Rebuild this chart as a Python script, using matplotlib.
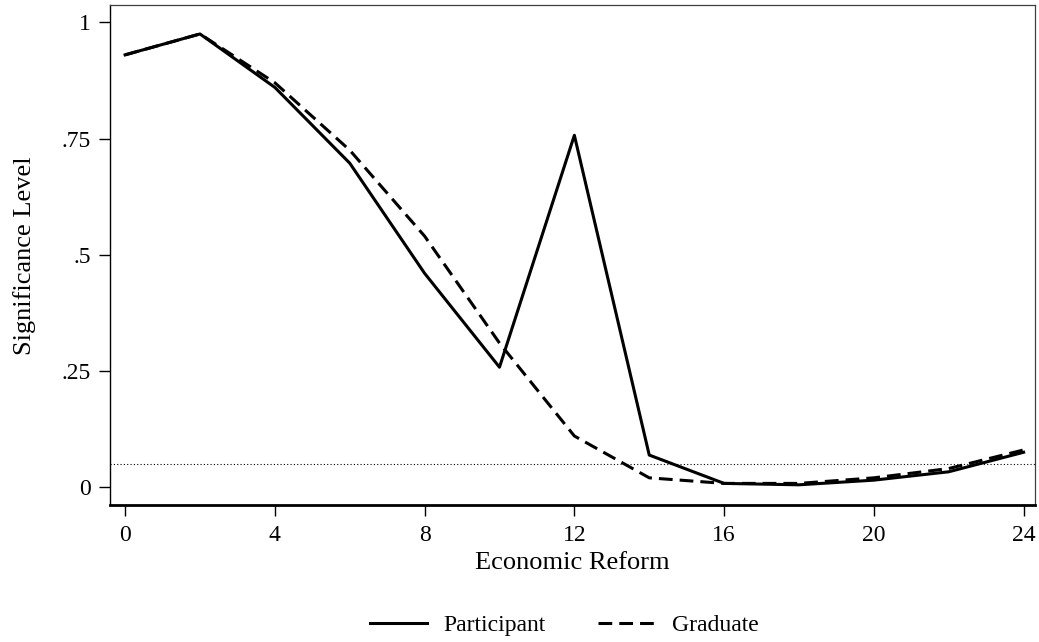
import matplotlib
matplotlib.use("Agg")
import matplotlib.pyplot as plt
from matplotlib.lines import Line2D

reform = [0, 2, 4, 6, 8, 10, 12, 14, 16, 18, 20, 22, 24]
participant = [0.93, 0.975, 0.86, 0.697, 0.46, 0.258, 0.757, 0.069, 0.008, 0.005, 0.015, 0.033, 0.075]
graduate = [0.93, 0.975, 0.87, 0.725, 0.54, 0.31, 0.11, 0.02, 0.008, 0.008, 0.02, 0.04, 0.08]
threshold = 0.05
xticks = [0, 4, 8, 12, 16, 20, 24]
yticks = [0, 0.25, 0.5, 0.75, 1]
ytick_labels = ["0", ".25", ".5", ".75", "1"]

plt.rcParams['font.family'] = ['Liberation Serif', 'DejaVu Serif']

fig = plt.figure(figsize=(10.39, 6.42), dpi=100)
ax = fig.add_axes([0.106, 0.213, 0.890, 0.779])

dash = (0, (4.5, 2.3))
ax.plot(reform, participant, color='black', lw=2.2, label='Participant')
ax.plot(reform, graduate, color='black', lw=2.2, linestyle=dash, label='Graduate')
ax.axhline(threshold, color='black', lw=0.8, linestyle=(0, (1, 2)))

ax.set_xlim(-0.4, 24.3)
ax.set_ylim(-0.039, 1.037)
ax.set_xticks(xticks)
ax.set_xticklabels([str(t) for t in xticks])
ax.set_yticks(yticks)
ax.set_yticklabels(ytick_labels)
ax.tick_params(axis='both', direction='out', length=8, width=1, labelsize=17, colors='black', pad=6)

for s in ['top', 'right']:
    ax.spines[s].set_linewidth(0.9)
    ax.spines[s].set_color('#404040')
ax.spines['left'].set_linewidth(1.0)
ax.spines['bottom'].set_linewidth(2.0)

ax.set_xlabel('Economic Reform', fontsize=19)
ax.set_ylabel('Significance Level', fontsize=19)
ax.xaxis.set_label_coords(0.5, -0.094)
ax.yaxis.set_label_coords(-0.080, 0.5)

handles = [Line2D([], [], color='black', lw=2.2),
           Line2D([], [], color='black', lw=2.2, linestyle=dash)]
fig.legend(handles, ['Participant', 'Graduate'], loc='center', bbox_to_anchor=(0.543, 0.026),
           ncol=2, frameon=False, fontsize=17, handlelength=2.4, columnspacing=2.25, handletextpad=0.7)

fig.savefig('out.png', dpi=100)
